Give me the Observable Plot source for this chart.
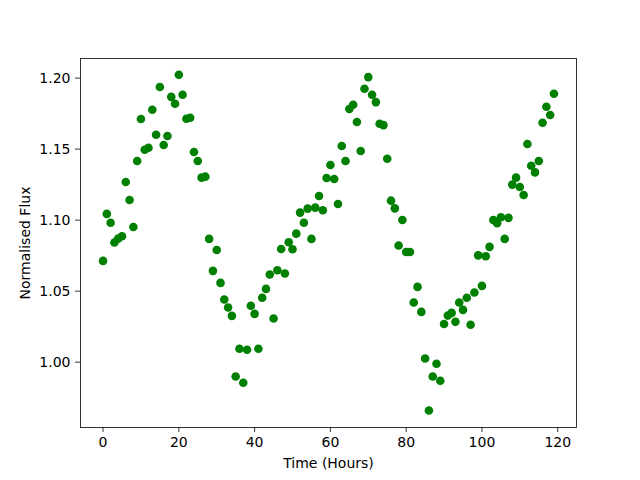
<!DOCTYPE html>
<html>
<head>
<meta charset="utf-8">
<script src="https://cdn.jsdelivr.net/npm/d3@7"></script>
<script src="https://cdn.jsdelivr.net/npm/@observablehq/plot@0.6"></script>
<style>
  html, body { margin: 0; padding: 0; background: white; }
</style>
</head>
<body>
<div id="chart"></div>
<script>
const hours = d3.range(0, 120);
const flux = [
  1.0713, 1.1044, 1.0982, 1.0842, 1.0870, 1.0887, 1.1269, 1.1142, 1.0952, 1.1416,
  1.1712, 1.1496, 1.1510, 1.1777, 1.1601, 1.1937, 1.1529, 1.1592, 1.1868, 1.1819,
  1.2023, 1.1883, 1.1714, 1.1721, 1.1480, 1.1416, 1.1299, 1.1306, 1.0868, 1.0643,
  1.0790, 1.0558, 1.0441, 1.0385, 1.0326, 0.9899, 1.0094, 0.9855, 1.0087, 1.0397,
  1.0340, 1.0094, 1.0453, 1.0516, 1.0617, 1.0307, 1.0647, 1.0797, 1.0624, 1.0844,
  1.0795, 1.0905, 1.1053, 1.0982, 1.1081, 1.0868, 1.1088, 1.1170, 1.1070, 1.1297,
  1.1388, 1.1290, 1.1114, 1.1522, 1.1416, 1.1782, 1.1812, 1.1691, 1.1487, 1.1925,
  1.2007, 1.1883, 1.1831, 1.1679, 1.1669, 1.1432, 1.1137, 1.1083, 1.0821, 1.1001,
  1.0776, 1.0776, 1.0420, 1.0530, 1.0354, 1.0026, 0.9660, 0.9899, 0.9989, 0.9869,
  1.0269, 1.0328, 1.0347, 1.0284, 1.0420, 1.0368, 1.0453, 1.0263, 1.0490, 1.0752,
  1.0537, 1.0746, 1.0812, 1.1001, 1.0978, 1.1020, 1.0868, 1.1016, 1.1250, 1.1299,
  1.1233, 1.1177, 1.1536, 1.1383, 1.1336, 1.1416, 1.1686, 1.1798, 1.1740, 1.1890
];
const xTicks = [0, 20, 40, 60, 80, 100, 120];
const yTicks = [1.00, 1.05, 1.10, 1.15, 1.20];

const data = hours.map((h, i) => ({time: h, flux: flux[i]}));

const chart = Plot.plot({
  width: 640,
  height: 480,
  marginLeft: 80,
  marginRight: 64,
  marginTop: 58,
  marginBottom: 53,
  style: {fontFamily: "DejaVu Sans", fontSize: "14px", color: "black", background: "white"},
  x: {domain: [-5.95, 124.95]},
  y: {domain: [0.954, 1.2138]},
  marks: [
    Plot.dot(data, {x: "time", y: "flux", r: 4.3, fill: "green", stroke: "none"}),
    Plot.frame({stroke: "black", strokeWidth: 0.8}),
    Plot.axisX(xTicks, {tickSize: 5, tickPadding: 5, strokeWidth: 0.8, tickFormat: d3.format("d"),
      label: "Time (Hours)", labelAnchor: "center", labelArrow: "none", labelOffset: 40}),
    Plot.axisY(yTicks, {tickSize: 5, tickPadding: 5, strokeWidth: 0.8, tickFormat: d3.format(".2f"),
      label: "Normalised Flux", labelAnchor: "center", labelArrow: "none", labelOffset: 60})
  ]
});
document.getElementById("chart").appendChild(chart);
</script>
</body>
</html>
